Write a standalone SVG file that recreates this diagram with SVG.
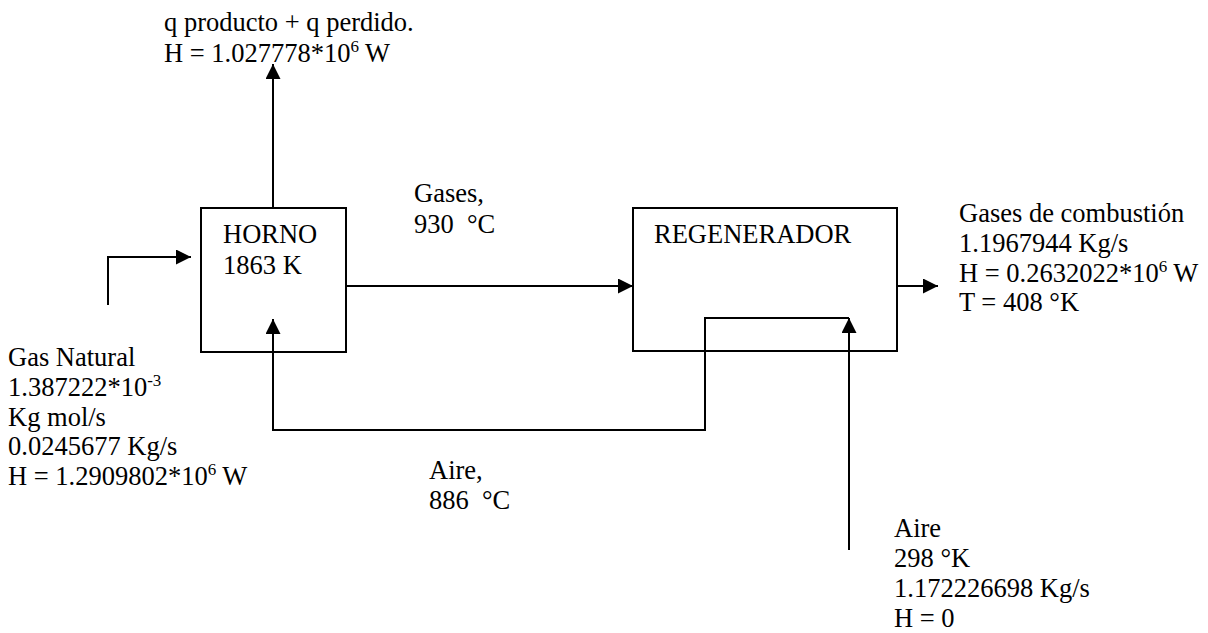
<svg xmlns="http://www.w3.org/2000/svg" width="1208" height="633" viewBox="0 0 1208 633">
<style>
text{font-family:"Liberation Serif","Times New Roman",serif;font-size:26.5px;fill:#000}
.sup{font-size:17px}
.box{fill:#fff;stroke:#000;stroke-width:2}
.ln{fill:none;stroke:#000;stroke-width:2}
</style>
<defs>
<marker id="ah" markerUnits="userSpaceOnUse" markerWidth="16" markerHeight="16" refX="15" refY="7.5" orient="auto">
<path d="M0,0 L15,7.5 L0,15 z" fill="#000"/>
</marker>
</defs>
<rect width="1208" height="633" fill="#fff"/>
<g id="horno">
<rect class="box" x="201" y="208" width="145" height="144"/>
<text x="223" y="243">HORNO</text>
<text x="223" y="274">1863 K</text>
</g>
<g id="regenerador">
<rect class="box" x="633" y="208" width="264" height="143"/>
<text x="654" y="243">REGENERADOR</text>
</g>
<g id="connectors">
<path class="ln" d="M108,305 V257 H191" marker-end="url(#ah)"/>
<path class="ln" d="M273,208 V64" marker-end="url(#ah)"/>
<path class="ln" d="M346,286 H633" marker-end="url(#ah)"/>
<path class="ln" d="M897,286 H938" marker-end="url(#ah)"/>
<path class="ln" d="M849,550 V318" marker-end="url(#ah)"/>
<path class="ln" d="M849,318 H705 V430 H273 V319" marker-end="url(#ah)"/>
</g>
<g id="labels">
<text x="164" y="31">q producto + q perdido.</text>
<text x="164" y="62">H = 1.027778*10<tspan class="sup" dy="-10">6</tspan><tspan dy="10"> W</tspan></text>
<text x="414" y="202">Gases,</text>
<text x="414" y="233" xml:space="preserve">930  °C</text>
<text x="429" y="479">Aire,</text>
<text x="429" y="509" xml:space="preserve">886  °C</text>
<text x="8" y="366">Gas Natural</text>
<text x="8" y="396">1.387222*10<tspan class="sup" dy="-10">-3</tspan></text>
<text x="8" y="426">Kg mol/s</text>
<text x="8" y="455">0.0245677 Kg/s</text>
<text x="8" y="485">H = 1.2909802*10<tspan class="sup" dy="-10">6</tspan><tspan dy="10"> W</tspan></text>
<text x="959" y="222">Gases de combustión</text>
<text x="959" y="252">1.1967944 Kg/s</text>
<text x="959" y="282">H = 0.2632022*10<tspan class="sup" dy="-10">6</tspan><tspan dy="10"> W</tspan></text>
<text x="959" y="311">T = 408 °K</text>
<text x="894" y="537">Aire</text>
<text x="894" y="567">298 °K</text>
<text x="894" y="597">1.172226698 Kg/s</text>
<text x="894" y="627">H = 0</text>
</g>
</svg>
